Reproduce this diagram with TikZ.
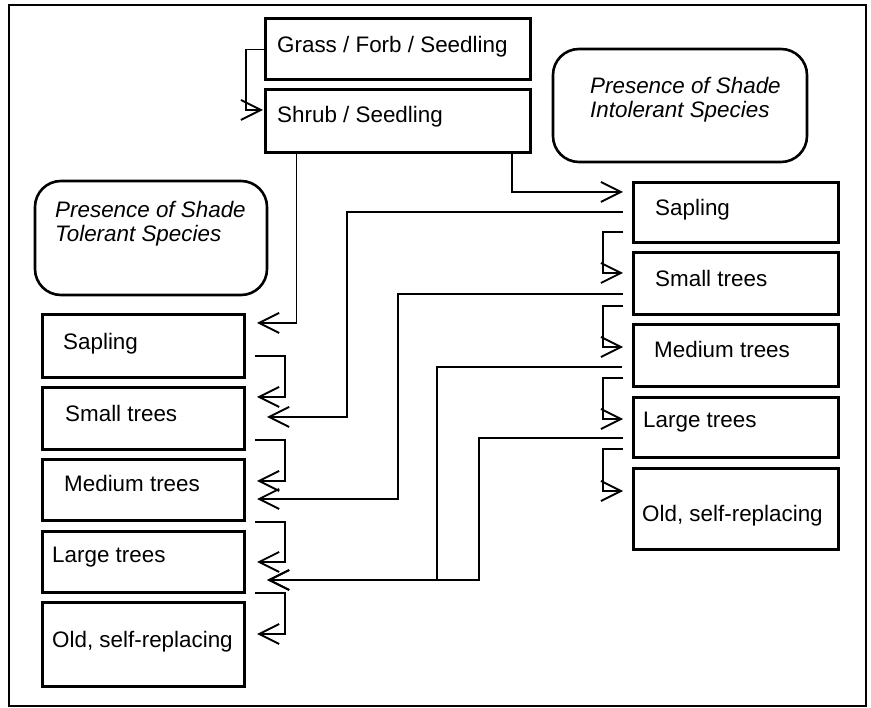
\documentclass[tikz,border=0pt]{standalone}
\usepackage{fontspec}
\setmainfont{Liberation Sans}
\usetikzlibrary{arrows.meta}

\begin{document}
\begin{tikzpicture}[x=1pt, y=-1pt,
  stage/.style={draw, rectangle, line width=3pt, inner sep=0pt, outer sep=0pt},
  group/.style={draw, rectangle, rounded corners=26pt, line width=2.6pt, inner sep=0pt, outer sep=0pt},
  stagetext/.style={anchor=base west, inner sep=0pt, font=\fontsize{22.4}{24}\selectfont},
  grouptext/.style={anchor=north west, align=left, inner sep=0pt, font=\fontsize{22.4}{24}\selectfont\itshape},
  flow/.style={line width=1.9pt, -{Straight Barb[length=20pt,width=20pt]}}]

\useasboundingbox (0,0) rectangle (871,708);
\draw[line width=2pt] (9,5) rectangle (866,706);

% early stages
\node[stage, minimum width=265pt, minimum height=61pt] (grass) at (397.5,49.5) {};
\node[stagetext] (grasslbl) at (277,53) {Grass / Forb / Seedling};
\node[stage, minimum width=265pt, minimum height=63pt] (shrub) at (397.5,121.5) {};
\node[stagetext] (shrublbl) at (277,123) {Shrub / Seedling};

% group headings
\node[group, minimum width=254pt, minimum height=113pt] (intol) at (680,105.5) {};
\node[grouptext] (intollbl) at (590,76.7) {Presence of Shade\\Intolerant Species};
\node[group, minimum width=232pt, minimum height=114pt] (tol) at (151,238) {};
\node[grouptext] (tollbl) at (55,200.7) {Presence of Shade\\Tolerant Species};

% shade tolerant column
\node[stage, minimum width=202pt, minimum height=63pt] (lsap) at (143,346.5) {};
\node[stagetext] (lsaplbl) at (63,350) {Sapling};
\node[stage, minimum width=202pt, minimum height=62pt] (lsmall) at (143,419) {};
\node[stagetext] (lsmalllbl) at (65,422) {Small trees};
\node[stage, minimum width=202pt, minimum height=61pt] (lmed) at (143,490.5) {};
\node[stagetext] (lmedlbl) at (64,492) {Medium trees};
\node[stage, minimum width=202pt, minimum height=61pt] (llarge) at (143,562.5) {};
\node[stagetext] (llargelbl) at (52,563) {Large trees};
\node[stage, minimum width=202pt, minimum height=83pt] (lold) at (143,644.5) {};
\node[stagetext] (loldlbl) at (52,647) {Old, self-replacing};

% shade intolerant column
\node[stage, minimum width=205pt, minimum height=60pt] (rsap) at (735.5,213) {};
\node[stagetext] (rsaplbl) at (655,216) {Sapling};
\node[stage, minimum width=205pt, minimum height=62pt] (rsmall) at (735.5,284) {};
\node[stagetext] (rsmalllbl) at (655,287) {Small trees};
\node[stage, minimum width=205pt, minimum height=62pt] (rmed) at (735.5,356) {};
\node[stagetext] (rmedlbl) at (654,358) {Medium trees};
\node[stage, minimum width=205pt, minimum height=60pt] (rlarge) at (735.5,428) {};
\node[stagetext] (rlargelbl) at (643,428) {Large trees};
\node[stage, minimum width=205pt, minimum height=81pt] (rold) at (735.5,509.5) {};
\node[stagetext] (roldlbl) at (642,522) {Old, self-replacing};

% from the top
\draw[flow] (grass.west) -- ++(-19,0) |- ([shift={(-2,-11.5)}]shrub.west);
\draw[flow] ([shift={(114.5,0)}]shrub.south) |- ([shift={(-10,-21)}]rsap.west);
\draw[flow] ([shift={(-101,0)}]shrub.south) |- ([shift={(13,-23.5)}]lsap.east);

% tolerant succession
\draw[flow] ([shift={(11,9.5)}]lsap.east) -- ++(30,0) |- ([shift={(13,-22)}]lsmall.east);
\draw[flow] ([shift={(11,21)}]lsmall.east) -- ++(30,0) |- ([shift={(13,-9.5)}]lmed.east);
\draw[flow] ([shift={(11,31.5)}]lmed.east) -- ++(30,0) |- ([shift={(13,-0.5)}]llarge.east);
\draw[flow] ([shift={(11,30.5)}]llarge.east) -- ++(30,0) |- ([shift={(13,-10.5)}]lold.east);

% intolerant succession
\draw[flow] ([shift={(-10,19)}]rsap.west) -- ++(-20,0) |- ([shift={(-10,-11)}]rsmall.west);
\draw[flow] ([shift={(-10,22)}]rsmall.west) -- ++(-20,0) |- ([shift={(-10,-9)}]rmed.west);
\draw[flow] ([shift={(-10,22)}]rmed.west) -- ++(-20,0) |- ([shift={(-10,-9)}]rlarge.west);
\draw[flow] ([shift={(-10,21)}]rlarge.west) -- ++(-20,0) |- ([shift={(-10,-18.5)}]rold.west);

% intolerant to tolerant
\draw[flow] ([shift={(-10,-1)}]rsap.west) -- ++(-276,0) |- ([shift={(23,-2)}]lsmall.east);
\draw[flow] ([shift={(-10,10)}]rsmall.west) -- ++(-225,0) |- ([shift={(13,8.5)}]lmed.east);
\draw[flow] ([shift={(-11,11)}]rmed.west) -- ++(-185,0) |- ([shift={(23,17.5)}]llarge.east);
\draw[flow] ([shift={(-10,10)}]rlarge.west) -- ++(-144,0) |- ([shift={(23,17.5)}]llarge.east);
\end{tikzpicture}
\end{document}
